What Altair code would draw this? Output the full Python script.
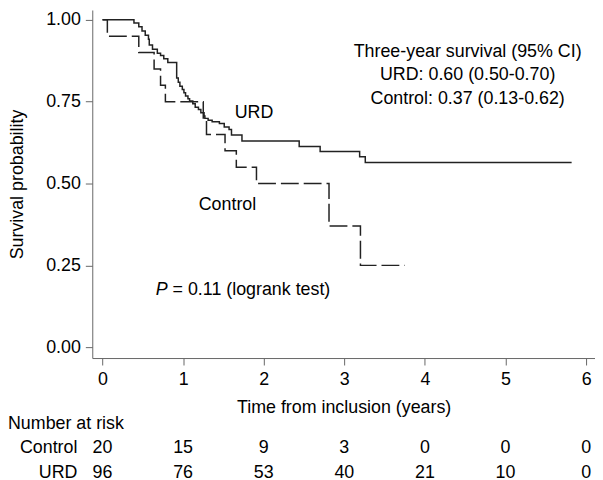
import altair as alt
import pandas as pd

# URD (solid) Kaplan-Meier steps
urd_time = [0.0, 0.39, 0.45, 0.49, 0.53, 0.57, 0.58, 0.62, 0.68, 0.72, 0.76, 0.81,
            0.92, 0.94, 0.96, 0.99, 1.01, 1.03, 1.06, 1.08, 1.12, 1.15, 1.19, 1.22,
            1.26, 1.27, 1.31, 1.36, 1.45, 1.51, 1.57, 1.60, 1.73, 2.44, 2.70, 3.19,
            3.26, 5.82]
urd_surv = [1.0, 0.99, 0.979, 0.966, 0.953, 0.941, 0.923, 0.91, 0.898, 0.891, 0.881, 0.87,
            0.822, 0.809, 0.797, 0.787, 0.777, 0.767, 0.759, 0.752, 0.744, 0.733, 0.726, 0.716,
            0.706, 0.699, 0.693, 0.689, 0.683, 0.673, 0.665, 0.648, 0.630, 0.613, 0.598, 0.582,
            0.564, 0.564]

# Control (dashed)
ctrl_time = [0.0, 0.06, 0.45, 0.64, 0.72, 0.78, 1.25, 1.29, 1.52, 1.66, 1.91, 2.81, 3.20, 3.75]
ctrl_surv = [1.0, 0.95, 0.90, 0.85, 0.80, 0.75, 0.70, 0.65, 0.60, 0.55, 0.50, 0.37, 0.25, 0.25]

# Number at risk
risk_times = [0, 1, 2, 3, 4, 5, 6]
risk_control = [20, 15, 9, 3, 0, 0, 0]
risk_urd = [96, 76, 53, 40, 21, 10, 0]

FONT = "Liberation Sans"
FS = 18
INK = "#222222"

urd_df = pd.DataFrame({"t": urd_time, "s": urd_surv})
ctrl_df = pd.DataFrame({"t": ctrl_time, "s": ctrl_surv})

xscale = alt.Scale(domain=[-0.127, 6.11], nice=False, zero=False)
yscale = alt.Scale(domain=[-0.033, 1.03], nice=False, zero=False)

x_enc = alt.X("t:Q", scale=xscale,
              axis=alt.Axis(values=risk_times, format="d", title="Time from inclusion (years)",
                            tickSize=7, labelPadding=6, titlePadding=10))
y_enc = alt.Y("s:Q", scale=yscale,
              axis=alt.Axis(values=[0, 0.25, 0.5, 0.75, 1.0], format=".2f",
                            title="Survival probability", tickSize=7, labelPadding=5,
                            titlePadding=19))

urd_line = alt.Chart(urd_df).mark_line(interpolate="step-after", color=INK, strokeWidth=1.5).encode(
    x=x_enc, y=y_enc)
ctrl_line = alt.Chart(ctrl_df).mark_line(interpolate="step-after", color=INK, strokeWidth=1.5,
                                         strokeDash=[18, 5]).encode(x="t:Q", y="s:Q")

ann_df = pd.DataFrame({
    "t": [1.88, 1.55],
    "s": [0.715, 0.433],
    "label": ["URD", "Control"],
})
ann = alt.Chart(ann_df).mark_text(font=FONT, fontSize=FS, color="black", align="center",
                                  baseline="middle").encode(x="t:Q", y="s:Q", text="label:N")

summary_df = pd.DataFrame({
    "t": [4.53, 4.53, 4.53],
    "s": [0.903, 0.830, 0.758],
    "label": ["Three-year survival (95% CI)", "URD: 0.60 (0.50-0.70)", "Control: 0.37 (0.13-0.62)"],
})
summary = alt.Chart(summary_df).mark_text(font=FONT, fontSize=FS, color="black", align="center",
                                          baseline="middle").encode(x="t:Q", y="s:Q", text="label:N")

p_df = pd.DataFrame({"t": [0.66], "s": [0.176], "label": ["P"]})
p_italic = alt.Chart(p_df).mark_text(font=FONT, fontSize=FS, fontStyle="italic", color="black",
                                     align="left", baseline="middle").encode(x="t:Q", y="s:Q", text="label:N")
p_rest_df = pd.DataFrame({"t": [0.66], "s": [0.176], "label": ["= 0.11 (logrank test)"]})
p_rest = alt.Chart(p_rest_df).mark_text(font=FONT, fontSize=FS, color="black", align="left",
                                        baseline="middle", dx=17).encode(x="t:Q", y="s:Q", text="label:N")

risk_df = pd.DataFrame({
    "t": risk_times * 2,
    "n": risk_control + risk_urd,
    "group": ["Control"] * 7 + ["URD"] * 7,
})
risk_ctrl = alt.Chart(risk_df[risk_df.group == "Control"]).mark_text(
    font=FONT, fontSize=FS, color="black", align="center", baseline="alphabetic"
).encode(x="t:Q", y=alt.value(447), text="n:Q")
risk_urd_t = alt.Chart(risk_df[risk_df.group == "URD"]).mark_text(
    font=FONT, fontSize=FS, color="black", align="center", baseline="alphabetic"
).encode(x="t:Q", y=alt.value(471.5), text="n:Q")

row_df = pd.DataFrame({"label": ["Control", "URD"], "row": [447, 471.5]})
row_labels = alt.Chart(row_df).mark_text(font=FONT, fontSize=FS, color="black", align="right",
                                         baseline="alphabetic").encode(
    x=alt.value(-15), y=alt.Y("row:Q", scale=None), text="label:N")

head_df = pd.DataFrame({"label": ["Number at risk"]})
head = alt.Chart(head_df).mark_text(font=FONT, fontSize=FS, color="black", align="left",
                                    baseline="alphabetic").encode(
    x=alt.value(-85), y=alt.value(422.5), text="label:N")

chart = alt.layer(urd_line, ctrl_line, ann, summary, p_italic, p_rest,
                  risk_ctrl, risk_urd_t, row_labels, head).properties(
    width=507, height=351,
    autosize=alt.AutoSizeParams(type="none"),
    padding={"left": 85, "top": 0, "right": 0, "bottom": 123},
).configure_view(stroke=None).configure_axis(
    grid=False, domainColor="#666666", tickColor="#666666", domainWidth=1, tickWidth=1,
    labelFont=FONT, labelFontSize=FS, labelColor="black",
    titleFont=FONT, titleFontSize=FS, titleFontWeight="normal", titleColor="black",
)

chart.save("out.html", embed_options={"renderer": "svg", "actions": False})
